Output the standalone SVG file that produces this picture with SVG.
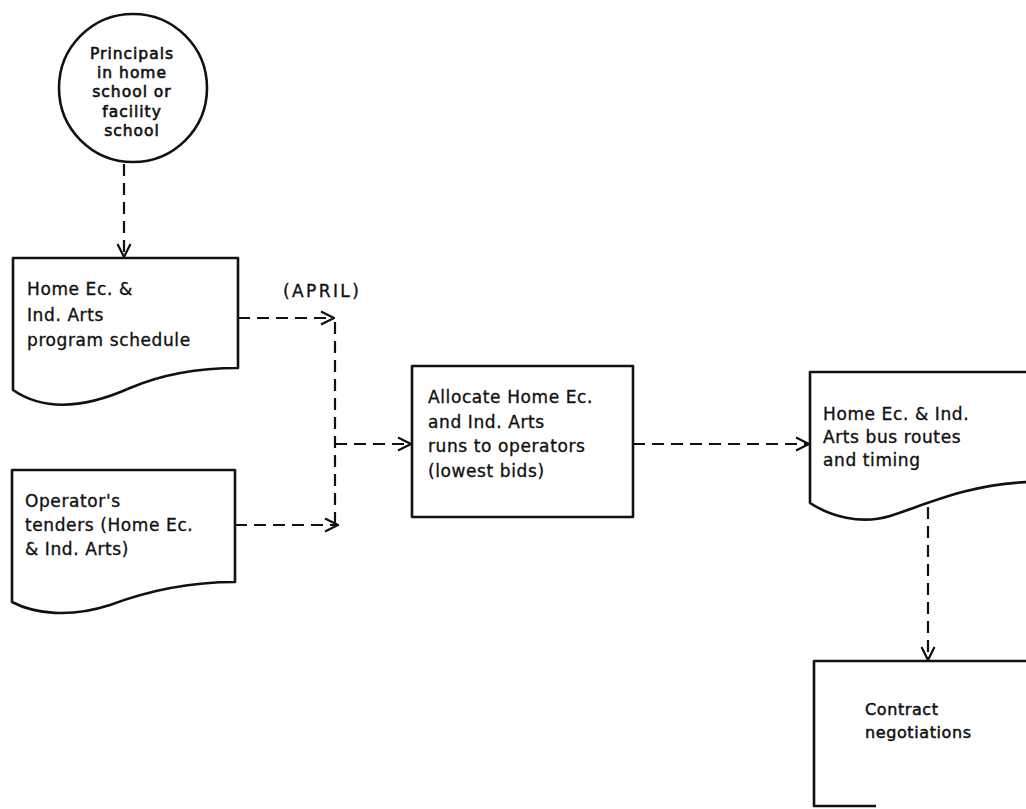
<svg xmlns="http://www.w3.org/2000/svg" width="1026" height="809" viewBox="0 0 1026 809">
  <style>
    .shape { fill: none; stroke: #111; stroke-width: 2.6; stroke-linejoin: round; }
    .flow { fill: none; stroke: #111; stroke-width: 2.2; stroke-dasharray: 12 7; }
    .lbl { font-family: "DejaVu Sans", "Liberation Sans", sans-serif; font-size: 17px; fill: #111; stroke: #111; stroke-width: 0.35; letter-spacing: 0.6px; }
    .circ { font-family: "DejaVu Sans", "Liberation Sans", sans-serif; font-size: 15.5px; fill: #111; stroke: #111; stroke-width: 0.6; letter-spacing: 1px; text-anchor: middle; }
  </style>
  <defs>
    <marker id="open" viewBox="0 0 16 16" refX="15" refY="8" markerWidth="16" markerHeight="16" markerUnits="userSpaceOnUse" orient="auto">
      <path d="M2,1.5 L15,8 L2,14.5" fill="none" stroke="#111" stroke-width="2.2"/>
    </marker>
  </defs>
  <rect width="1026" height="809" fill="#fff"/>

  <!-- connectors -->
  <g id="connectors">
    <path class="flow" d="M124,164 V257" marker-end="url(#open)"/>
    <path class="flow" d="M238,318 H334" marker-end="url(#open)"/>
    <path class="flow" d="M235,525 H338" marker-end="url(#open)"/>
    <path class="flow" d="M335,322 V523"/>
    <path class="flow" d="M335,444 H411" marker-end="url(#open)"/>
    <path class="flow" d="M633,444 H809" marker-end="url(#open)"/>
    <path class="flow" d="M928,507 V660" marker-end="url(#open)"/>
  </g>

  <!-- source: principals -->
  <g id="principals">
    <circle class="shape" cx="133" cy="88" r="74"/>
    <text class="circ" x="132" y="59">Principals</text>
    <text class="circ" x="132" y="78">in home</text>
    <text class="circ" x="132" y="97">school or</text>
    <text class="circ" x="132" y="117">facility</text>
    <text class="circ" x="132" y="136">school</text>
  </g>

  <!-- document: program schedule -->
  <g id="program-schedule">
    <path class="shape" d="M13,390 V258 H238 V368 C200,368 165,373 130,388 C85,408 45,412 13,390 Z"/>
    <text class="lbl" x="27" y="295">Home Ec. &amp;</text>
    <text class="lbl" x="27" y="321">Ind. Arts</text>
    <text class="lbl" x="27" y="346">program schedule</text>
  </g>

  <text id="april" class="lbl" x="283" y="297" style="letter-spacing:2.4px">(APRIL)</text>

  <!-- document: operator's tenders -->
  <g id="operators-tenders">
    <path class="shape" d="M12,602 V470 H235 V582 C190,582 150,590 110,605 C70,618 35,614 12,602 Z"/>
    <text class="lbl" x="25" y="507">Operator's</text>
    <text class="lbl" x="25" y="531">tenders (Home Ec.</text>
    <text class="lbl" x="25" y="555">&amp; Ind. Arts)</text>
  </g>

  <!-- process: allocate -->
  <g id="allocate">
    <rect class="shape" x="412" y="366" width="221" height="151"/>
    <text class="lbl" x="428" y="403">Allocate Home Ec.</text>
    <text class="lbl" x="428" y="428">and Ind. Arts</text>
    <text class="lbl" x="428" y="452">runs to operators</text>
    <text class="lbl" x="428" y="477">(lowest bids)</text>
  </g>

  <!-- document: bus routes -->
  <g id="bus-routes">
    <path class="shape" d="M1030,372 H810 V503 C830,516 860,525 890,516 C930,503 970,484 1030,482"/>
    <text class="lbl" x="823" y="420">Home Ec. &amp; Ind.</text>
    <text class="lbl" x="823" y="443">Arts bus routes</text>
    <text class="lbl" x="823" y="466">and timing</text>
  </g>

  <!-- process: contract negotiations -->
  <g id="contract">
    <path class="shape" d="M1030,661 H814 V806 H876"/>
    <text class="lbl" x="865" y="715" style="font-size:16px;stroke-width:0.5">Contract</text>
    <text class="lbl" x="865" y="738" style="font-size:16px;stroke-width:0.5">negotiations</text>
  </g>
</svg>
